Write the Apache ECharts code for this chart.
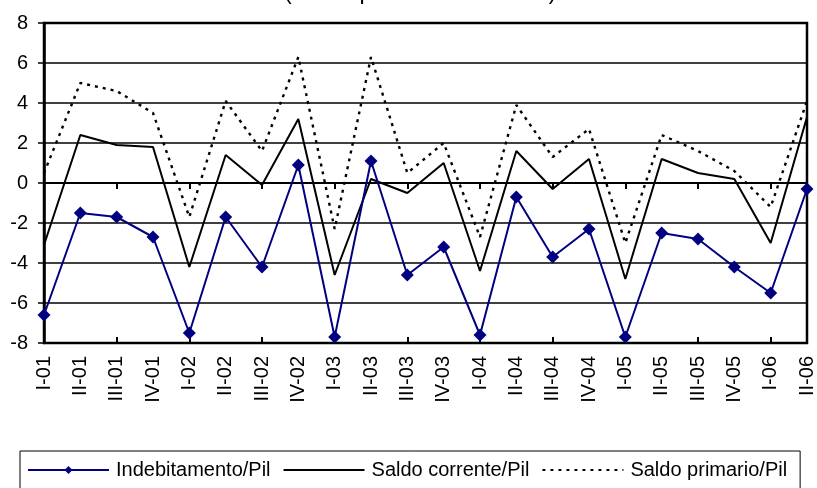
<!DOCTYPE html>
<html>
<head>
<meta charset="utf-8">
<script src="https://cdn.jsdelivr.net/npm/echarts@6/dist/echarts.min.js"></script>
<style>
  html, body { margin: 0; padding: 0; background: #fff; }
  #chart { width: 817px; height: 488px; }
</style>
</head>
<body>
<div id="chart"></div>
<script>
// trimestri
const categories = ['I-01', 'II-01', 'III-01', 'IV-01', 'I-02', 'II-02', 'III-02', 'IV-02',
  'I-03', 'II-03', 'III-03', 'IV-03', 'I-04', 'II-04', 'III-04', 'IV-04',
  'I-05', 'II-05', 'III-05', 'IV-05', 'I-06', 'II-06']

const indebitamento = [-6.6, -1.5, -1.7, -2.7, -7.5, -1.7, -4.2, 0.9,
  -7.7, 1.1, -4.6, -3.2, -7.6, -0.7, -3.7, -2.3,
  -7.7, -2.5, -2.8, -4.2, -5.5, -0.3]
const saldoCorrente = [-3.1, 2.4, 1.9, 1.8, -4.2, 1.4, -0.1, 3.2,
  -4.6, 0.2, -0.5, 1.0, -4.4, 1.6, -0.3, 1.2,
  -4.8, 1.2, 0.5, 0.2, -3.0, 3.3]
const saldoPrimario = [0.5, 5.0, 4.6, 3.5, -1.7, 4.1, 1.6, 6.3,
  -2.3, 6.3, 0.5, 2.0, -2.7, 3.9, 1.3, 2.7,
  -3.0, 2.4, 1.6, 0.6, -1.2, 4.1]

const seriesNames = ['Indebitamento/Pil', 'Saldo corrente/Pil', 'Saldo primario/Pil']
const titleText = '(dati in percentuale del Pil)'

const font = 'Arial, "Liberation Sans", sans-serif'

const chart = echarts.init(document.getElementById('chart'))

// asse ausiliario sullo zero, solo linea e tacche
const zeroAxis = (inside) => ({
  type: 'category',
  data: categories,
  boundaryGap: false,
  position: 'bottom',
  axisLine: { show: true, onZero: true, lineStyle: { color: '#000', width: 2 } },
  axisTick: { show: true, inside: inside, length: 6, lineStyle: { color: '#000', width: 2 } },
  axisLabel: { show: false },
  splitLine: { show: false }
})

const option = {
  animation: false,
  textStyle: { fontFamily: font },
  graphic: [{
    type: 'text',
    left: 284,
    top: -19,
    style: { text: titleText, fontSize: 23, fontFamily: font, fill: '#000' }
  }],
  grid: {
    left: 44,
    right: 9,
    top: 23,
    bottom: 145,
    show: true,
    borderColor: '#000',
    borderWidth: 2.5
  },
  legend: {
    left: 20,
    top: 451,
    data: [
      { name: seriesNames[0] },
      { name: seriesNames[1], itemStyle: { opacity: 0 } },
      { name: seriesNames[2], itemStyle: { opacity: 0 } }
    ],
    itemWidth: 81,
    itemHeight: 10,
    itemGap: 12,
    padding: [9, 13, 20, 7],
    borderColor: '#000',
    borderWidth: 1,
    textStyle: { fontSize: 20, color: '#000', fontFamily: font, padding: [0, 0, 0, 2] }
  },
  xAxis: [
    {
      type: 'category',
      data: categories,
      boundaryGap: false,
      position: 'bottom',
      axisLine: { show: false, onZero: false },
      axisTick: { show: false },
      axisLabel: { rotate: 90, fontSize: 20, color: '#000', margin: 13, interval: 0 },
      splitLine: { show: false }
    },
    zeroAxis(false),
    zeroAxis(true)
  ],
  yAxis: {
    type: 'value',
    min: -8,
    max: 8,
    interval: 2,
    axisLine: { show: true, lineStyle: { color: '#000', width: 2.5 } },
    axisTick: { show: true, length: 6, lineStyle: { color: '#000', width: 1.5 } },
    axisLabel: { fontSize: 20, color: '#000', margin: 16 },
    splitLine: { show: true, lineStyle: { color: '#000', width: 1.6 } }
  },
  series: [
    {
      name: seriesNames[0],
      type: 'line',
      data: indebitamento,
      symbol: 'diamond',
      symbolSize: 13,
      itemStyle: { color: '#000080' },
      lineStyle: { color: '#000080', width: 2 },
      z: 4
    },
    {
      name: seriesNames[1],
      type: 'line',
      data: saldoCorrente,
      symbol: 'none',
      itemStyle: { color: '#000' },
      lineStyle: { color: '#000', width: 2 },
      z: 3
    },
    {
      name: seriesNames[2],
      type: 'line',
      data: saldoPrimario,
      symbol: 'none',
      itemStyle: { color: '#000' },
      lineStyle: { color: '#000', width: 2.4, type: [3, 5] },
      z: 3
    }
  ]
}

chart.setOption(option)
</script>
</body>
</html>
